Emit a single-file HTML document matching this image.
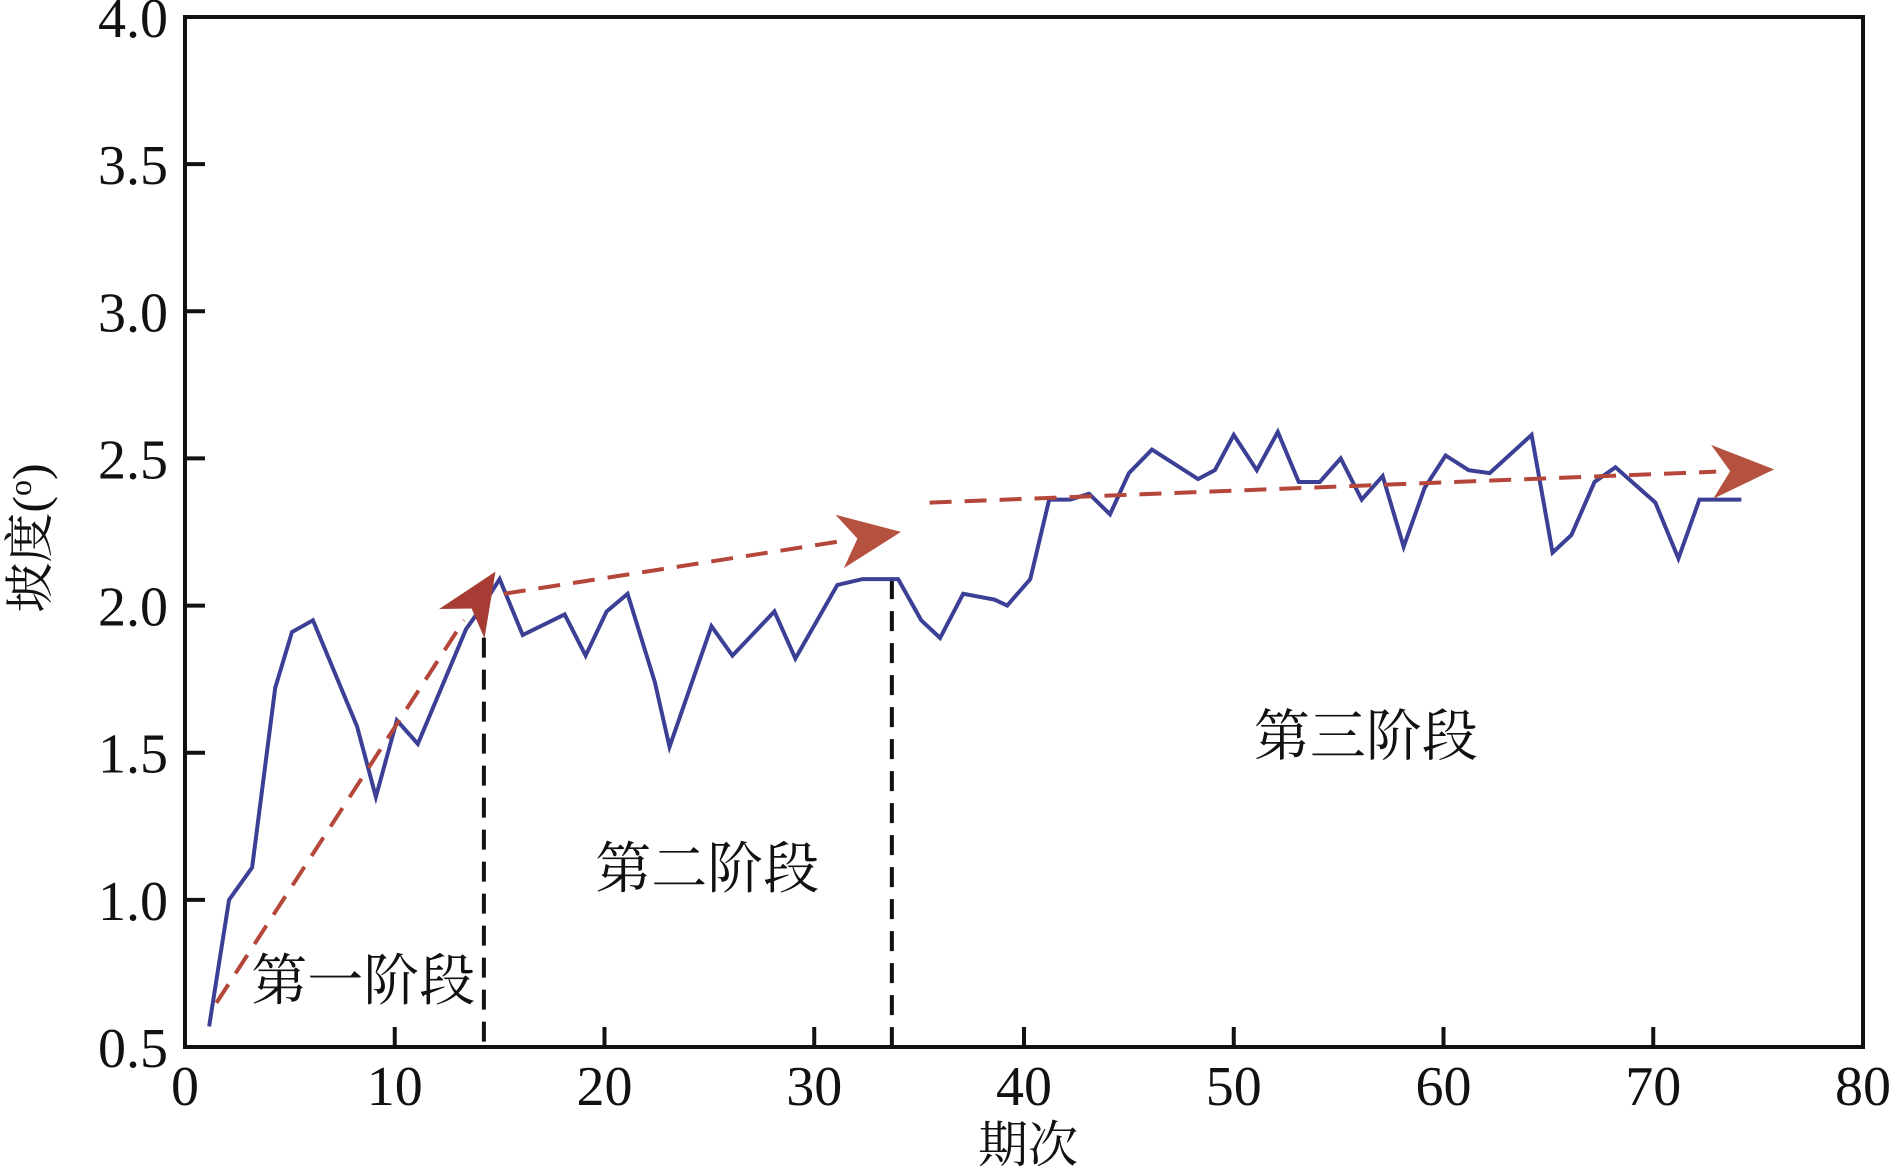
<!DOCTYPE html>
<html><head><meta charset="utf-8"><style>
html,body{margin:0;padding:0;background:#fff;}
svg{display:block;}
text{font-family:"Liberation Serif","Noto Serif CJK SC",serif;fill:#111;}
</style></head><body>
<svg id="chart" width="1896" height="1173" viewBox="0 0 1896 1173" xmlns="http://www.w3.org/2000/svg">
<g id="marks"></g>
<g id="axes"></g>
</svg>
<script>
const periods = [1.15,2.1,3.2,4.3,5.1,6.1,8.2,9.1,10.1,11.1,13.4,14.2,15.0,16.1,18.1,19.1,20.1,21.1,22.4,23.1,25.1,26.1,28.1,29.1,31.1,32.3,34.0,35.1,36.0,37.1,38.6,39.2,40.3,41.2,42.2,43.1,44.1,45.0,46.1,48.3,49.1,50.0,51.1,52.1,53.1,54.1,55.1,56.1,57.1,58.1,59.1,60.1,61.2,62.2,64.2,65.2,66.1,67.2,68.2,70.1,71.2,72.2,74.2];
const slopes = [0.57,1.0,1.11,1.72,1.91,1.95,1.59,1.35,1.61,1.53,1.92,2.0,2.09,1.90,1.97,1.83,1.98,2.04,1.74,1.52,1.93,1.83,1.98,1.82,2.07,2.09,2.09,1.95,1.89,2.04,2.02,2.0,2.09,2.36,2.36,2.38,2.31,2.45,2.53,2.43,2.46,2.58,2.46,2.59,2.42,2.42,2.50,2.36,2.44,2.20,2.40,2.51,2.46,2.45,2.58,2.18,2.24,2.42,2.47,2.35,2.16,2.36,2.36];
const xTicks = [0,10,20,30,40,50,60,70,80];
const yTicks = [0.5,1.0,1.5,2.0,2.5,3.0,3.5,4.0];
const stageDividers = [14.25, 33.7];
const dividerTops = [2.0, 2.09];
const trendStarts = [[1.5,0.65],[15.2,2.04],[35.5,2.35]];
const trendEnds = [[13.3,1.95],[31.4,2.22],[73.0,2.455]];
const stageLabels = ["第一阶段","第二阶段","第三阶段"];
const stageLabelPos = [[8.5,0.66],[24.9,1.04],[56.3,1.49]];

const L=185,R=1863,T=17,B=1047;
const xs=v=>L+(v-0)/(80-0)*(R-L);
const ys=v=>B-(v-0.5)/(4.0-0.5)*(B-T);
const NS="http://www.w3.org/2000/svg";
const marks=document.getElementById('marks'), axes=document.getElementById('axes');
function mk(tag,attrs,parent){const e=document.createElementNS(NS,tag);for(const k in attrs)e.setAttribute(k,attrs[k]);parent.appendChild(e);return e;}

stageDividers.forEach((d,i)=>{
  const e=mk('line',{x1:xs(d),x2:xs(d),y1:ys(dividerTops[i]),y2:B,stroke:'#111','stroke-width':4,'stroke-dasharray':'20 12'},marks);
  
  
});
const pl=mk('polyline',{points:periods.map((p,i)=>xs(p)+','+ys(slopes[i])).join(' '),fill:'none',stroke:'#3b3f95','stroke-width':4,'stroke-linejoin':'miter'},marks);


trendStarts.forEach((s,i)=>{
  const e=trendEnds[i];
  const x1=xs(s[0]),y1=ys(s[1]),x2=xs(e[0]),y2=ys(e[1]);
  const ln=mk('line',{x1:x1,y1:y1,x2:x2,y2:y2,stroke:'#b5473a','stroke-width':4,'stroke-dasharray':'22 13'},marks);
  
  
  const ang=Math.atan2(y2-y1,x2-x1);
  const len=58,w=27,notch=14;
  const tx=x2+Math.cos(ang)*len,ty=y2+Math.sin(ang)*len;
  const px=-Math.sin(ang),py=Math.cos(ang);
  const pts=[[tx,ty],[x2-Math.cos(ang)*4+px*w,y2-Math.sin(ang)*4+py*w],[x2+Math.cos(ang)*notch,y2+Math.sin(ang)*notch],[x2-Math.cos(ang)*4-px*w,y2-Math.sin(ang)*4-py*w]];
  const ah=mk('polygon',{points:pts.map(p=>p.join(',')).join(' '),fill:i==0?'#a63c34':'#b5513f'},marks);
  
  
});
stageLabels.forEach((s,i)=>{
  const t=mk('text',{x:xs(stageLabelPos[i][0]),y:ys(stageLabelPos[i][1]),'text-anchor':'middle','font-size':56},marks);
  t.textContent=s;
  
  
});
const fr=mk('rect',{x:L,y:T,width:R-L,height:B-T,fill:'none',stroke:'#111','stroke-width':4},axes);


xTicks.forEach(v=>{
  const tk=mk('line',{x1:xs(v),x2:xs(v),y1:B,y2:B-20,stroke:'#111','stroke-width':4},axes);
  
  
  const t=mk('text',{x:xs(v),y:1105,'text-anchor':'middle','font-size':56,'font-family':'Liberation Serif, serif'},axes);
  t.textContent=v;
  
  
});
yTicks.forEach(v=>{
  const tk=mk('line',{x1:L,x2:L+20,y1:ys(v),y2:ys(v),stroke:'#111','stroke-width':4},axes);
  
  
  const t=mk('text',{x:168,y:ys(v)+20,'text-anchor':'end','font-size':56,'font-family':'Liberation Serif, serif'},axes);
  t.textContent=v.toFixed(1);
  
  
});
const xt=mk('text',{x:1028,y:1162,'text-anchor':'middle','font-size':50},axes);
xt.textContent='期次';


const yt=mk('text',{x:0,y:0,'text-anchor':'middle','font-size':50,transform:'translate(47,538) rotate(-90)'},axes);
yt.innerHTML='坡度(<tspan font-size="32" dy="-16">o</tspan><tspan dy="16">)</tspan>';


</script>
</body></html>
